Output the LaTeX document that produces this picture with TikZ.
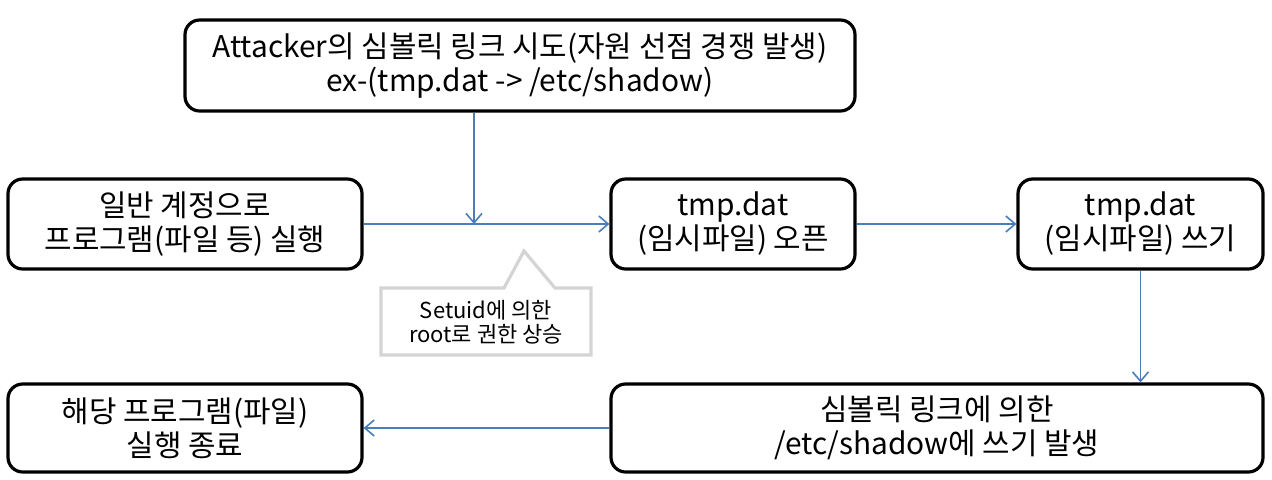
\documentclass[tikz,border=0pt]{standalone}
\usepackage{fontspec}
\setmainfont{Noto Sans CJK KR}
\usetikzlibrary{arrows.meta}
\definecolor{arrblue}{HTML}{4A7EBB}
\definecolor{callgray}{HTML}{D4D4D4}
\begin{document}
\begin{tikzpicture}[x=0.75pt,y=-0.75pt,
  box/.style={draw=black,line width=2.4pt,rounded corners=11pt,align=center,
    font=\fontsize{22.4pt}{25.5pt}\selectfont,inner sep=0pt},
  conn/.style={draw=arrblue,line width=1.2pt,-{Straight Barb[length=7pt,width=12pt,line width=1.2pt]}}]
\useasboundingbox (0,0) rectangle (1272,479);
\node[box,minimum width=670*0.75pt,minimum height=91*0.75pt] (top) at (520,65.5)
  {Attacker의 심볼릭 링크 시도(자원 선점 경쟁 발생)\\ex-(tmp.dat -> /etc/shadow)};
\node[box,minimum width=354*0.75pt,minimum height=90*0.75pt] (run) at (185,224)
  {일반 계정으로\\프로그램(파일 등) 실행};
\node[box,minimum width=244*0.75pt,minimum height=90*0.75pt] (open) at (733,224)
  {tmp.dat\\(임시파일) 오픈};
\node[box,minimum width=245*0.75pt,minimum height=90*0.75pt] (write) at (1140.5,224)
  {tmp.dat\\(임시파일) 쓰기};
\node[box,minimum width=652*0.75pt,minimum height=88*0.75pt] (sym) at (937,428)
  {심볼릭 링크에 의한\\/etc/shadow에 쓰기 발생};
\node[box,minimum width=354*0.75pt,minimum height=88*0.75pt] (end) at (185,428)
  {해당 프로그램(파일)\\실행 종료};
\coordinate (j) at (474,224);
\draw[conn] (run.east) -- (open.west);
\draw[conn] (top.south -| j) -- (j);
\draw[conn] (open.east) -- (write.west);
\draw[conn] (write.south) -- (sym.north -| write.south);
\draw[conn] (sym.west) -- (end.east);
\draw[draw=callgray,fill=white,line width=2.4pt,line join=miter]
  (381,288) -- (504,288) -- (524,251) -- (555,288) -- (591,288) -- (591,355) -- (381,355) -- cycle;
\node[align=center,font=\fontsize{16.5pt}{18pt}\selectfont,inner sep=0pt] (call) at (486,322)
  {Setuid에 의한\\root로 권한 상승};
\end{tikzpicture}
\end{document}
